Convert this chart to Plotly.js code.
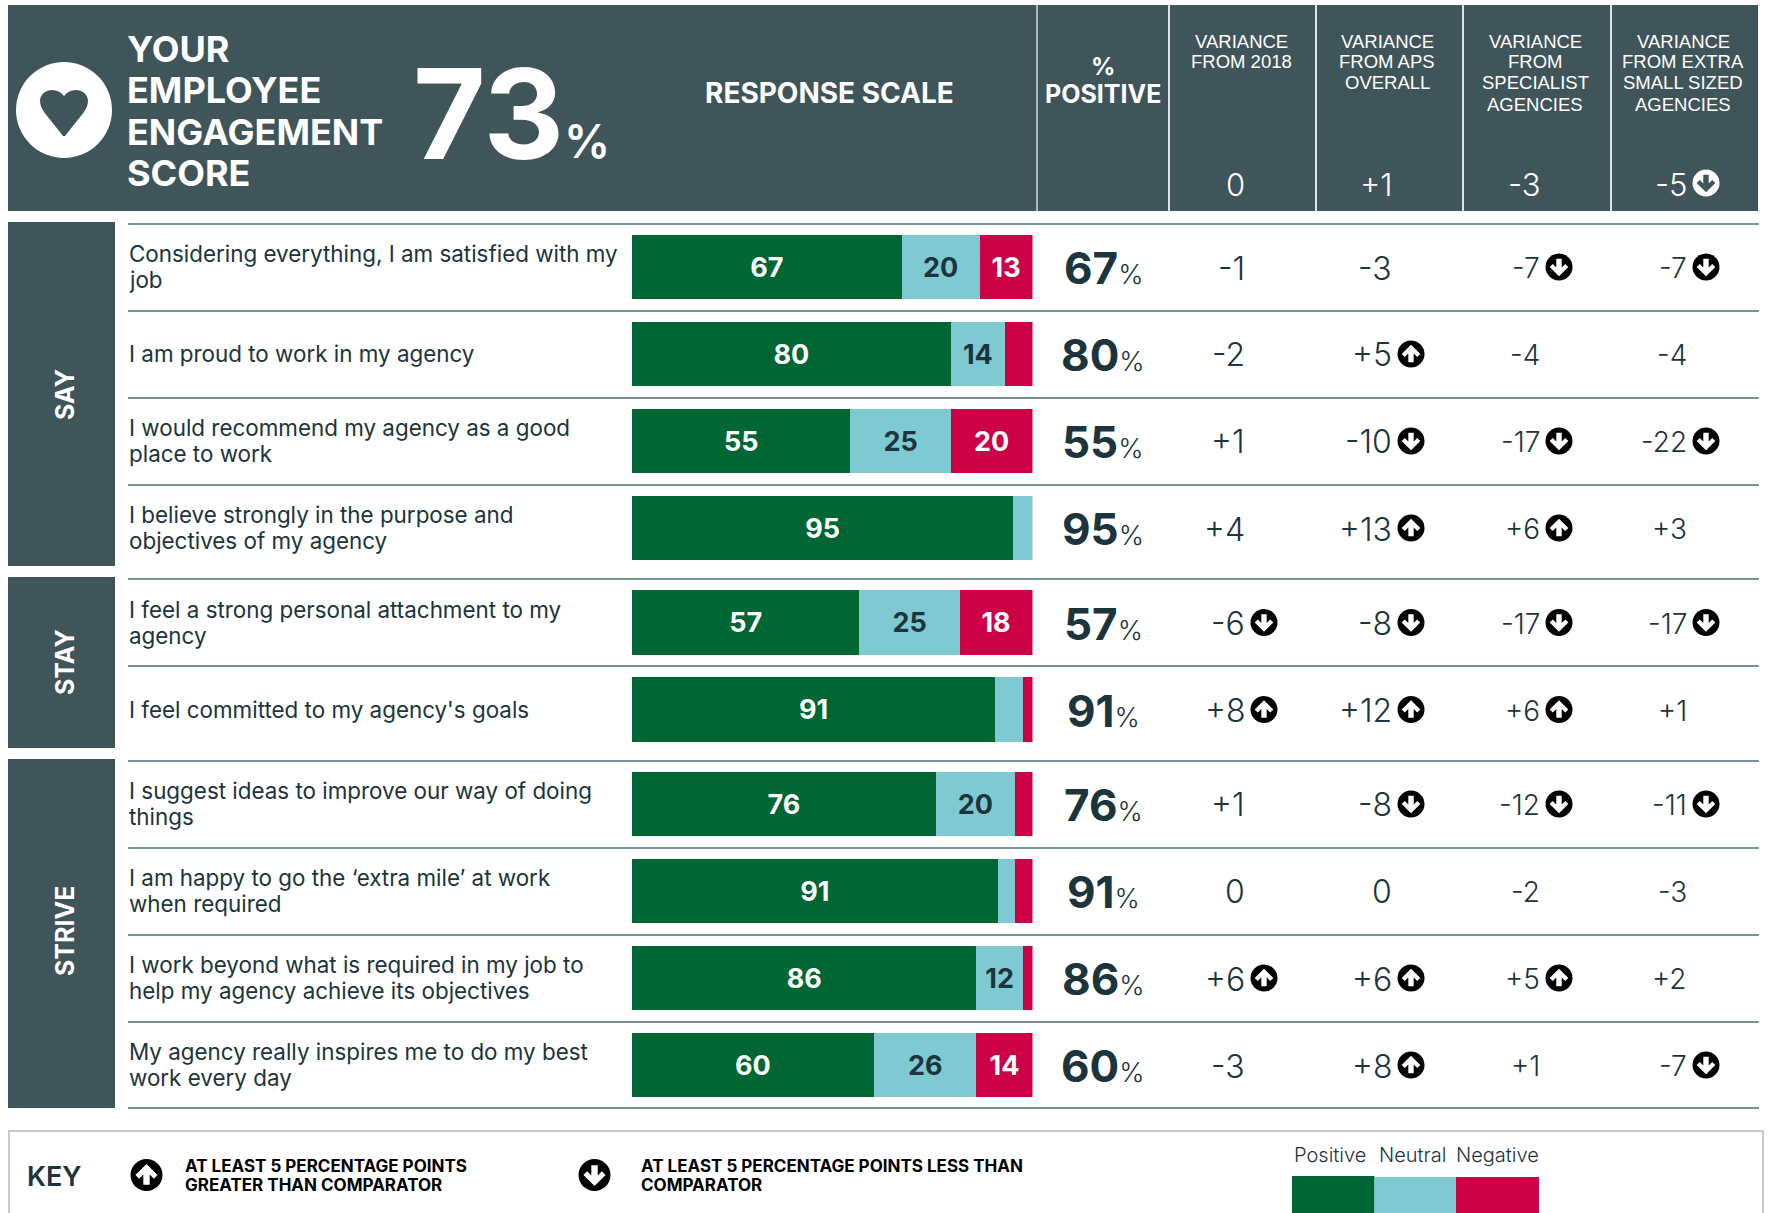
<!DOCTYPE html>
<html><head><meta charset="utf-8">
<script src="https://cdn.plot.ly/plotly-3.0.1.min.js"></script>
<style>html,body{margin:0;padding:0;background:#fff}#c{width:1768px;height:1213px}</style>
</head><body><div id="c"></div>
<script>
// ---------- data ----------
const sayQuestions = [
  "Considering everything, I am satisfied with my<br>job",
  "I am proud to work in my agency",
  "I would recommend my agency as a good<br>place to work",
  "I believe strongly in the purpose and<br>objectives of my agency"];
const stayQuestions = [
  "I feel a strong personal attachment to my<br>agency",
  "I feel committed to my agency's goals"];
const striveQuestions = [
  "I suggest ideas to improve our way of doing<br>things",
  "I am happy to go the ‘extra mile’ at work<br>when required",
  "I work beyond what is required in my job to<br>help my agency achieve its objectives",
  "My agency really inspires me to do my best<br>work every day"];
const groupNames = ["SAY","STAY","STRIVE"];
const positive = [67.3,79.6,54.5,95.2, 56.8,90.7, 75.9,91.3,86,60.4];
const neutral  = [19.5,13.5,25.1, 4.8, 25,6.9, 19.7, 4.3,11.6,25.6];
const negative = [13.2, 6.9,20.4, 0, 18.2, 2.4,  4.4, 4.4, 2.4,14];
const varFrom2018       = [-1,-2,+1,+4, -6,+8, +1,0,+6,-3];
const varFromAPS        = [-3,+5,-10,+13, -8,+12, -8,0,+6,+8];
const varFromSpecialist = [-7,-4,-17,+6, -17,+6, -12,-2,+5,+1];
const varFromExtraSmall = [-7,-4,-22,+3, -17,+1, -11,-3,+2,-7];
const overallVariance = [0,+1,-3,-5];
const overallScore = 73;
const varianceHeads = [
  ["VARIANCE","FROM 2018"],
  ["VARIANCE","FROM APS","OVERALL"],
  ["VARIANCE","FROM","SPECIALIST","AGENCIES"],
  ["VARIANCE","FROM EXTRA","SMALL SIZED","AGENCIES"]];
const seriesNames = ["Positive","Neutral","Negative"];
const keyUpText = ["AT LEAST 5 PERCENTAGE POINTS","GREATER THAN COMPARATOR"];
const keyDownText = ["AT LEAST 5 PERCENTAGE POINTS LESS THAN","COMPARATOR"];

// ---------- style ----------
const W=1768,H=1213;
const C={head:"#40555a",dark:"#1c343b",line:"#7b9299",pos:"#006633",neu:"#7fcad2",neg:"#cc0044",white:"#ffffff",black:"#000000"};
const SANS="Inter, 'Open Sans', sans-serif", ARIAL="'Liberation Sans', Arial, sans-serif";
const px=x=>x/W, py=y=>1-y/H;

const shapes=[], annotations=[];
function T(text,x,y,size,o={}){
  annotations.push({text:String(text),xref:"paper",yref:o.yref||"paper",x:px(x),
    y:o.yref?y:py(y),xanchor:o.anchor||"center",yanchor:"middle",align:o.align||o.anchor||"center",
    showarrow:false,borderpad:0,borderwidth:0,textangle:o.angle||0,yshift:o.yshift||0,
    font:{family:o.family||SANS,size,color:o.color||C.dark,weight:o.weight||400}});
}
function rect(x0,y0,x1,y1,fill){shapes.push({type:"rect",xref:"paper",yref:"paper",x0:px(x0),x1:px(x1),y0:py(y0),y1:py(y1),fillcolor:fill,line:{width:0},layer:"below"});}
function hline(x0,x1,y,color,w){shapes.push({type:"line",xref:"paper",yref:"paper",x0:px(x0),x1:px(x1),y0:py(y),y1:py(y),line:{color,width:w},layer:"below"});}
function vline(x,y0,y1,color,w){shapes.push({type:"line",xref:"paper",yref:"paper",x0:px(x),x1:px(x),y0:py(y0),y1:py(y1),line:{color,width:w},layer:"below"});}
function circle(cx,cy,r,fill){shapes.push({type:"circle",xref:"paper",yref:"paper",x0:px(cx-r),x1:px(cx+r),y0:py(cy-r),y1:py(cy+r),fillcolor:fill,line:{width:0},layer:"above"});}
function arrow(cx,cy,r,dir,bg,fg){
  circle(cx,cy,r,bg);
  const s=r/13, d=dir;
  const pts=[[-2.6,-8],[2.6,-8],[2.6,0.5],[6,-3],[9,0],[0,9],[-9,0],[-6,-3],[-2.6,0.5]];
  const p=pts.map((q,i)=>(i?"L":"M")+px(cx+q[0]*s)+","+py(cy+q[1]*s*d)).join(" ")+" Z";
  shapes.push({type:"path",xref:"paper",yref:"paper",path:p,fillcolor:fg,line:{width:0},layer:"above"});
}

// ---------- header ----------
rect(8,5,1758,211,C.head);
vline(1037,5,211,"#a9b8bb",2);
[1169,1316,1463,1611].forEach(x=>vline(x,5,211,"#dfe5e6",2));
circle(64,110,48,C.white);
(function(){
  const m=(x,y)=>px(64+x)+","+py(110+y);
  shapes.push({type:"path",xref:"paper",yref:"paper",layer:"above",fillcolor:C.head,line:{width:0},
    path:"M"+m(0,-14)+" C"+m(-3,-18)+" "+m(-7,-20)+" "+m(-12,-20)+" C"+m(-19,-20)+" "+m(-24,-15)+" "+m(-24,-9)+
      " C"+m(-24,-5)+" "+m(-22,-1)+" "+m(-20,2)+" L"+m(-1,26)+" L"+m(1,26)+" L"+m(20,2)+
      " C"+m(22,-1)+" "+m(24,-5)+" "+m(24,-9)+" C"+m(24,-15)+" "+m(19,-20)+" "+m(12,-20)+" C"+m(7,-20)+" "+m(3,-18)+" "+m(0,-14)+" Z"});
})();
["YOUR","EMPLOYEE","ENGAGEMENT","SCORE"].forEach((s,i)=>T(s,127,[49,90,132,173][i],36,{anchor:"left",color:C.white,weight:700}));
T(overallScore,488,113,125,{color:C.white,weight:700});
T("%",587,141,46,{color:C.white,weight:600});
T("RESPONSE SCALE",829,93,28,{color:C.white,weight:700});
T("%",1103,66,24,{color:C.white,weight:700});
T("POSITIVE",1103,94,25,{color:C.white,weight:700});
const headCx=[1241,1387,1535,1683];
varianceHeads.forEach((lines,c)=>lines.forEach((s,i)=>T(s,headCx[c],41+i*21,18.5,{family:ARIAL,color:C.white})));

// ---------- variance columns ----------
const arrowX=[1264,1411,1559,1706], valSize=[32,32,28,28];
const fmt=v=>v>0?"+"+v:String(v);
function varCell(v,c,y,color,bg,fg,size){
  T(fmt(v),arrowX[c]-19,y,size,{anchor:"right",color,weight:300});
  if(Math.abs(v)>=5) arrow(arrowX[c],y-1,13.5,v>0?-1:1,bg,fg);
}
overallVariance.forEach((v,c)=>varCell(v,c,184,C.white,C.white,C.head,31));

// ---------- rows ----------
const groups=[
  {name:groupNames[0],q:sayQuestions,axis:"y",top:222,bot:566,labelY:395,domTop:223.5,domBot:571.5},
  {name:groupNames[1],q:stayQuestions,axis:"y2",top:577,bot:748,labelY:662,domTop:579,domBot:753},
  {name:groupNames[2],q:striveQuestions,axis:"y3",top:759,bot:1108,labelY:931,domTop:760.5,domBot:1108.5}];
const ruleY=[224,311,398,485,579,666,761,848,935,1022,1108];
ruleY.forEach(y=>hline(128,1759,y,C.line,2));

const traces=[], layout={};
let start=0;
groups.forEach((g,gi)=>{
  rect(8,g.top,115,g.bot,C.head);
  T(g.name,65,g.labelY,25,{angle:-90,color:C.white,weight:700});
  const n=g.q.length, idx=[...Array(n).keys()].map(i=>start+i);
  const axKey=gi?"yaxis"+(gi+1):"yaxis";
  layout[axKey]={domain:[py(g.domBot),py(g.domTop)],range:[n-0.5,-0.5],type:"category",categoryorder:"array",categoryarray:g.q,
    visible:false,fixedrange:true,anchor:"x"};
  [[positive,C.pos,C.white],[neutral,C.neu,C.dark],[negative,C.neg,C.white]].forEach(([arr,col,tc],si)=>{
    const vals=idx.map(i=>arr[i]);
    traces.push({type:"bar",orientation:"h",name:seriesNames[si],x:vals,y:g.q,xaxis:"x",yaxis:g.axis,
      marker:{color:col,line:{width:0}},text:vals.map(v=>v>=10?String(Math.round(v)):""),textposition:"inside",
      insidetextanchor:"middle",constraintext:"none",textangle:0,cliponaxis:false,
      textfont:{family:SANS,size:27,color:tc,weight:700},hoverinfo:"skip",showlegend:false});
  });
  g.q.forEach((q,i)=>{
    const lines=q.split("<br>");
    lines.forEach((s,li)=>{
      annotations.push({text:s,xref:"paper",yref:g.axis,x:px(128),y:i,xanchor:"left",yanchor:"middle",align:"left",showarrow:false,borderpad:0,
        yshift:0.5-(li-(lines.length-1)/2)*26,font:{family:SANS,size:22.4,color:C.dark,weight:400}});
    });
    const ai=start+i;
    annotations.push({text:'<b style="font-weight:700">'+Math.round(positive[ai])+'</b><span style="font-size:27px;font-weight:300">%</span>',
      xref:"paper",yref:g.axis,x:px(1103),y:i,xanchor:"center",yanchor:"middle",showarrow:false,borderpad:0,yshift:-1,
      font:{family:SANS,size:44,color:C.dark}});
    const rowCy=g.domTop+(i+0.5)*(g.domBot-g.domTop)/n+1;
    [varFrom2018,varFromAPS,varFromSpecialist,varFromExtraSmall].forEach((a,c)=>varCell(a[ai],c,rowCy,C.dark,C.black,C.white,valSize[c]));
  });
  start+=n;
});

// ---------- key ----------
shapes.push({type:"path",xref:"paper",yref:"paper",layer:"below",line:{color:"#c9c9c9",width:2},
  path:"M"+px(9)+","+py(1213)+" L"+px(9)+","+py(1131)+" L"+px(1763)+","+py(1131)+" L"+px(1763)+","+py(1213)});
T("KEY",27,1176,27,{anchor:"left",weight:600});
arrow(146.5,1175,16,-1,C.black,C.white);
arrow(594.5,1175,16,1,C.black,C.white);
keyUpText.forEach((s,i)=>T(s,185,1166+i*18.5,17,{anchor:"left",color:C.black,weight:700}));
keyDownText.forEach((s,i)=>T(s,641,1166+i*18.5,17,{anchor:"left",color:C.black,weight:700}));
[[1292,1374.5,C.pos,1176],[1374.5,1456,C.neu,1177],[1456,1539,C.neg,1177]].forEach(([a,b,c,t])=>rect(a,t,b,1213,c));
[1330,1412,1497].forEach((x,i)=>T(seriesNames[i],x,1155,20,{weight:300}));

Object.assign(layout,{
  width:W,height:H,margin:{l:0,r:0,t:0,b:0,pad:0},paper_bgcolor:"#fff",plot_bgcolor:"rgba(0,0,0,0)",
  barmode:"stack",bargap:0.258,showlegend:false,
  xaxis:{domain:[px(632),px(1032.5)],range:[0,100],visible:false,fixedrange:true,anchor:"y"},
  shapes,annotations,hovermode:false,font:{family:SANS}
});
Plotly.newPlot("c",traces,layout,{displayModeBar:false,staticPlot:true,responsive:false});
</script></body></html>
